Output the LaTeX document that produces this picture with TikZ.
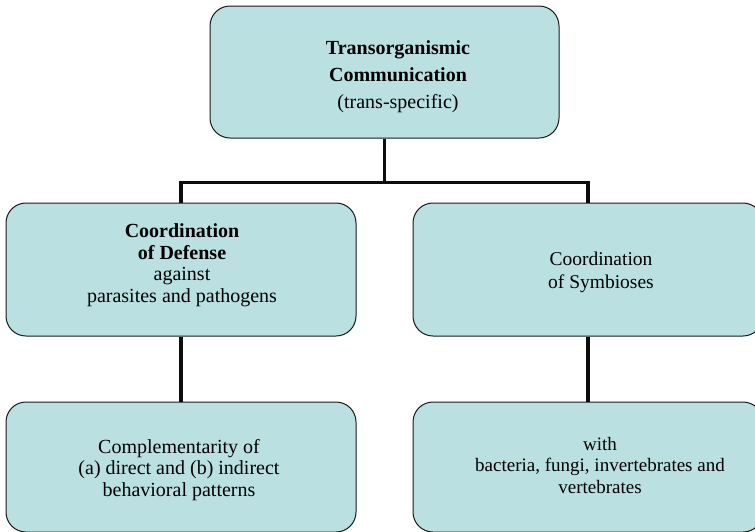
\documentclass[tikz,border=0pt]{standalone}
\usepackage{fontspec}
\setmainfont{Liberation Serif}
\definecolor{boxfill}{RGB}{186,224,225}
\begin{document}
\begin{tikzpicture}[x=1pt,y=-1pt,
  box/.style={draw=black!90,line width=1pt,fill=boxfill,rounded corners=20pt,
              minimum width=350pt,inner sep=0pt},
  txt/.style={align=center,font=\fontsize{20}{21.5}\selectfont,inner sep=0pt},
  conn/.style={line width=3.6pt,black!95}]
\useasboundingbox (0,0) rectangle (755,531);
\begin{scope}
\clip (0,0) rectangle (755,531);
% boxes
\node[box,minimum width=349pt,minimum height=132pt] (top) at (384.5,72) {};
\node[box,minimum height=133pt] (defense) at (181,269.5) {};
\node[box,minimum height=133pt] (symb) at (588,269.5) {};
\node[box,minimum height=130pt] (compl) at (181,467) {};
\node[box,minimum height=130pt] (with) at (588,467) {};
% texts
\node[txt,font=\fontsize{20}{27}\selectfont] (ttop) at (398,77)
  {\textbf{Transorganismic}\\\textbf{Communication}\\(trans-specific)};
\node[txt] (tdef) at (182,265)
  {\textbf{Coordination}\\\textbf{of Defense}\\against\\parasites and pathogens};
\node[txt,font=\fontsize{19.5}{23}\selectfont] (tsym) at (601,272)
  {Coordination\\of Symbioses};
\node[txt] (tcompl) at (179,470)
  {Complementarity of\\(a) direct and (b) indirect\\behavioral patterns};
\node[txt,font=\fontsize{19}{21.5}\selectfont] (twith) at (600,465)
  {with\\bacteria, fungi, invertebrates and\\vertebrates};
% connectors
\draw[conn] (top.south) -- ++(0,44) coordinate (hub);
\draw[conn] (defense.north) |- (hub) -| (symb.north);
\draw[conn] (defense.south) -- (compl.north);
\draw[conn] (symb.south) -- (with.north);
\end{scope}
\end{tikzpicture}
\end{document}
